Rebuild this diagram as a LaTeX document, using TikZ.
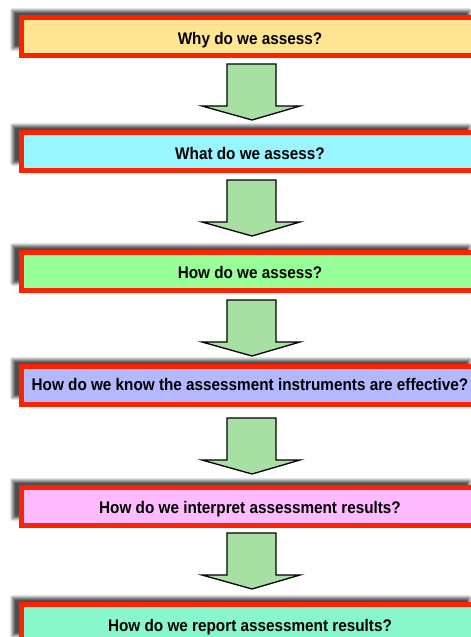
\documentclass[tikz,border=0pt]{standalone}
\usepackage{fontspec}
\setmainfont{Liberation Sans}
\newfontfamily\boxfont[FakeStretch=0.91]{Liberation Sans Bold}
\usetikzlibrary{shadows.blur}
\definecolor{bred}{HTML}{FF2200}
\definecolor{fillA}{HTML}{FFE592}
\definecolor{fillB}{HTML}{99F5FF}
\definecolor{fillC}{HTML}{99FF99}
\definecolor{fillD}{HTML}{B3B8FF}
\definecolor{fillE}{HTML}{FFBBFF}
\definecolor{fillF}{HTML}{88F8CC}
\definecolor{arrowgreen}{HTML}{A8E0A3}
\tikzset{
  qbox/.style={draw=bred, line width=5pt, minimum width=457pt, minimum height=38pt,
    inner sep=0pt, font=\boxfont\fontsize{16.8pt}{18pt}\selectfont, text=black,
    text depth=0pt, text height=15pt,
    blur shadow={shadow xshift=-9pt, shadow yshift=7pt, shadow opacity=70,
      shadow blur radius=3pt, shadow blur steps=6}},
  arrowshape/.style={draw=black, line width=1.3pt, fill=arrowgreen, line join=miter},
  blockarrow/.pic={\path[arrowshape] (-24.5,0) -- (24.5,0) -- (24.5,42) -- (48.5,42)
      -- (0.5,56) -- (-49.5,42) -- (-24.5,42) -- cycle;}
}
\begin{document}
\begin{tikzpicture}[x=1pt,y=-1pt]
\useasboundingbox (0,0) rectangle (471,637);
\clip (0,0) rectangle (471,637);
\node[qbox, fill=fillA, text height=15pt] (b1) at (250,36.5) {Why do we assess?};
\node[qbox, fill=fillB, text height=15pt] (b2) at (250,151.5) {What do we assess?};
\node[qbox, fill=fillC, text height=13.6pt] (b3) at (250,271.5) {How do we assess?};
\node[qbox, fill=fillD, text height=9pt] (b4) at (250,385.5) {How do we know the assessment instruments are effective?};
\node[qbox, fill=fillE, text height=13.6pt] (b5) at (250,506.5) {How do we interpret assessment results?};
\node[qbox, fill=fillF, text height=16pt] (b6) at (250,623.5) {How do we report assessment results?};
\pic at (251.5,64) {blockarrow};
\pic at (251.5,180) {blockarrow};
\pic at (251.5,300) {blockarrow};
\pic at (251.5,418) {blockarrow};
\pic at (251.5,533) {blockarrow};
\end{tikzpicture}
\end{document}
